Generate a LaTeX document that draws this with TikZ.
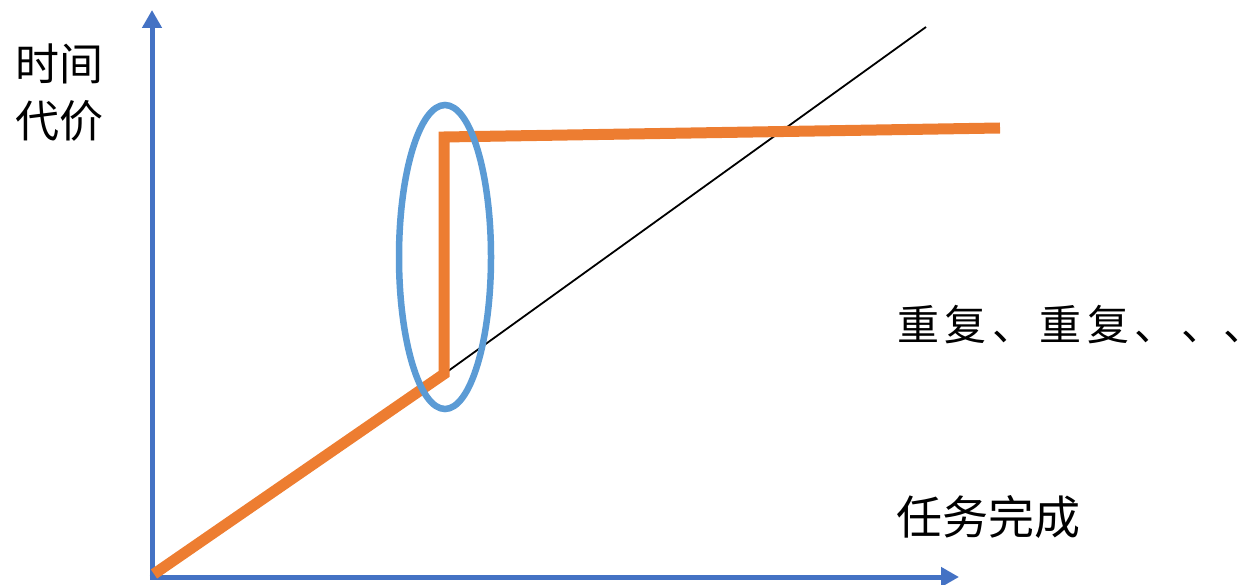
\documentclass[tikz,border=0pt]{standalone}
\usepackage{fontspec}
\newfontfamily\cjk{Noto Sans CJK SC}
\newfontfamily\cjkspaced[LetterSpace=13]{Noto Sans CJK SC}
\usetikzlibrary{arrows.meta}
\definecolor{axisblue}{HTML}{4472C4}
\definecolor{ellblue}{HTML}{5B9BD5}
\definecolor{curveorange}{HTML}{ED7D31}
\tikzset{
  axis/.style={draw=axisblue, line width=5pt, -{Triangle[length=18pt,width=19pt]}},
  curve/.style={draw=curveorange, line width=11pt, line join=miter},
  trend/.style={draw=black, line width=1.8pt},
  ring/.style={draw=ellblue, line width=6.5pt},
  lbl/.style={font=\cjk\fontsize{44}{52}\selectfont, inner sep=0pt, align=center}
}
\begin{document}
\begin{tikzpicture}[x=1pt,y=-1pt]
\useasboundingbox (0,0) rectangle (1249,585);
\coordinate (O) at (152,577);
\coordinate (Ytop) at (152,10);
\coordinate (Xend) at (959,577);
\coordinate (start) at (154,574);
\coordinate (knee) at (444,374);
\coordinate (top) at (444,137);
\coordinate (far) at (1000,128);
\coordinate (tend) at (926,27);
\draw[axis] (O) -- (Ytop);
\draw[axis] ([xshift=-2.5pt]O) -- (Xend);
\draw[trend] (knee) -- (tend);
\draw[curve] (start) -- (knee) -- (top) -- (far);
\draw[ring] (445,257) ellipse [x radius=46, y radius=152];
\node[lbl] (ylab1) at (60,64) {时间};
\node[lbl] (ylab2) at (60,121) {代价};
\node[lbl, font=\cjk\fontsize{46}{52}\selectfont, anchor=west] (xlab) at (896,517) {任务完成};
\node[lbl, font=\cjkspaced\fontsize{42}{50}\selectfont, anchor=west] (rep) at (897,325) {重复、重复、、\rlap{、}};
\end{tikzpicture}
\end{document}
